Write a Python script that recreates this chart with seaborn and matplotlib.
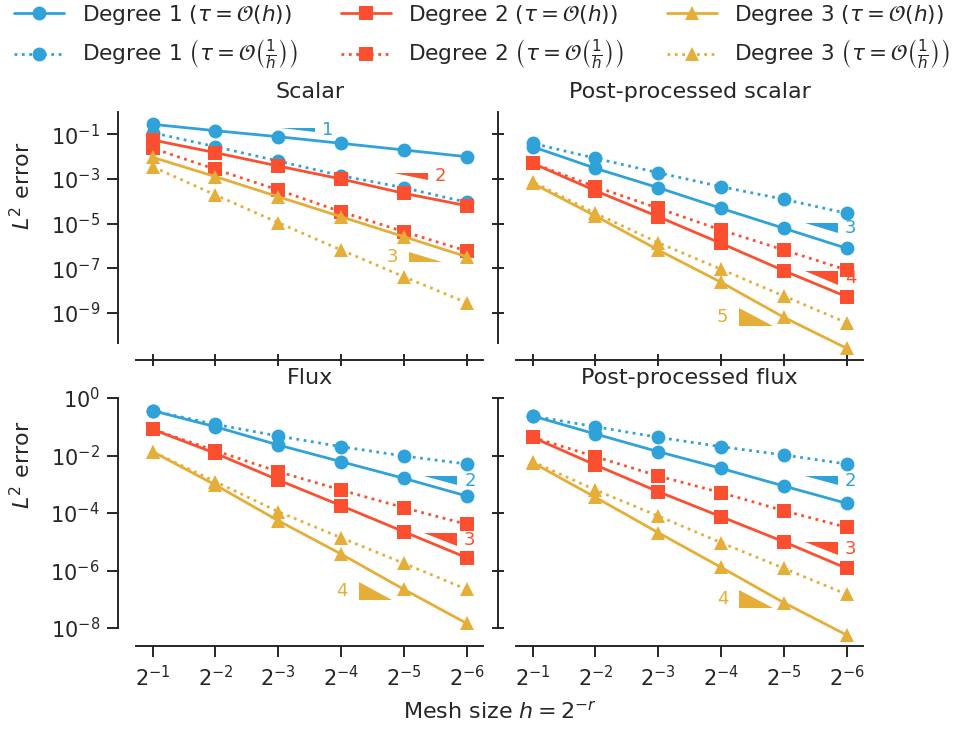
import numpy as np
import pandas as pd
import matplotlib
matplotlib.use("Agg")
import matplotlib.pyplot as plt
from matplotlib.lines import Line2D
from matplotlib.patches import Polygon
from matplotlib.ticker import FixedLocator, LogFormatterSciNotation, NullLocator
import seaborn as sns

# ---------------------------------------------------------------- data
refinement = [1, 2, 3, 4, 5, 6]           # h = 2^-r
mesh_size = [2.0 ** -r for r in refinement]

panel_titles = ["Scalar", "Post-processed scalar", "Flux", "Post-processed flux"]

# L2 errors, tau = O(h) ("h") and tau = O(1/h) ("inv")
scalar_deg1_h = [2.81e-1, 1.45e-1, 7.80e-2, 3.94e-2, 1.98e-2, 9.91e-3]
scalar_deg1_inv = [1.18e-1, 2.78e-2, 6.35e-3, 1.39e-3, 4.03e-4, 8.93e-5]
scalar_deg2_h = [5.55e-2, 1.50e-2, 3.78e-3, 9.91e-4, 2.26e-4, 6.28e-5]
scalar_deg2_inv = [2.36e-2, 2.69e-3, 3.18e-4, 3.38e-5, 4.29e-6, 5.85e-7]
scalar_deg3_h = [9.31e-3, 1.26e-3, 1.59e-4, 2.02e-5, 2.56e-6, 3.24e-7]
scalar_deg3_inv = [3.52e-3, 1.90e-4, 1.09e-5, 6.49e-7, 4.11e-8, 2.81e-9]

pp_scalar_deg1_h = [2.78e-2, 2.99e-3, 4.03e-4, 4.81e-5, 6.10e-6, 7.73e-7]
pp_scalar_deg1_inv = [3.94e-2, 8.39e-3, 1.90e-3, 4.47e-4, 1.22e-4, 2.86e-5]
pp_scalar_deg2_h = [5.01e-3, 2.96e-4, 2.02e-5, 1.29e-6, 7.64e-8, 5.21e-9]
pp_scalar_deg2_inv = [5.01e-3, 4.47e-4, 4.81e-5, 5.12e-6, 6.49e-7, 8.22e-8]
pp_scalar_deg3_h = [6.35e-4, 2.17e-5, 6.49e-7, 2.31e-8, 6.22e-10, 2.54e-11]
pp_scalar_deg3_inv = [7.48e-4, 2.86e-5, 1.38e-6, 8.83e-8, 5.61e-9, 3.56e-10]

flux_deg1_h = [3.62e-1, 1.00e-1, 2.32e-2, 6.11e-3, 1.61e-3, 3.90e-4]
flux_deg1_inv = [3.62e-1, 1.21e-1, 4.76e-2, 2.03e-2, 9.62e-3, 5.06e-3]
flux_deg2_h = [8.13e-2, 1.19e-2, 1.41e-3, 1.80e-4, 2.24e-5, 2.79e-6]
flux_deg2_inv = [8.13e-2, 1.47e-2, 2.74e-3, 6.31e-4, 1.53e-4, 4.04e-5]
flux_deg3_h = [1.36e-2, 9.42e-4, 5.41e-5, 3.75e-6, 2.21e-7, 1.45e-8]
flux_deg3_inv = [1.36e-2, 1.23e-3, 1.11e-4, 1.38e-5, 1.78e-6, 2.21e-7]

pp_flux_deg1_h = [2.37e-1, 5.60e-2, 1.36e-2, 3.58e-3, 8.69e-4, 2.17e-4]
pp_flux_deg1_inv = [2.37e-1, 1.00e-1, 4.29e-2, 2.03e-2, 1.04e-2, 5.06e-3]
pp_flux_deg2_h = [4.29e-2, 4.68e-3, 5.52e-4, 7.45e-5, 1.00e-5, 1.19e-6]
pp_flux_deg2_inv = [4.29e-2, 9.10e-3, 1.94e-3, 5.09e-4, 1.20e-4, 3.17e-5]
pp_flux_deg3_h = [5.64e-3, 3.51e-4, 2.07e-5, 1.29e-6, 7.59e-8, 5.71e-9]
pp_flux_deg3_inv = [6.11e-3, 6.31e-4, 7.87e-5, 9.29e-6, 1.19e-6, 1.48e-7]

# convergence-rate triangles, one per degree: (rate, left exponent of h, top error, label side)
scalar_slopes = [(1, 3.05, 10 ** -0.731, "right"), (2, 4.85, 10 ** -2.722, "right"),
                 (3, 5.08, 10 ** -6.265, "left")]
pp_scalar_slopes = [(3, 5.33, 10 ** -4.964, "right"), (4, 5.33, 10 ** -7.117, "right"),
                    (5, 4.29, 10 ** -8.803, "left")]
flux_slopes = [(2, 5.32, 10 ** -2.713, "right"), (3, 5.32, 10 ** -4.685, "right"),
               (4, 4.28, 10 ** -6.390, "left")]
pp_flux_slopes = [(2, 5.33, 10 ** -2.713, "right"), (3, 5.33, 10 ** -4.998, "right"),
                  (4, 4.29, 10 ** -6.678, "left")]
TRIANGLE_WIDTH = 0.53   # in powers of two along h

degree_labels = ["Degree 1", "Degree 2", "Degree 3"]
tau_labels = [r"($\tau = \mathcal{O}(h)$)",
              r"$\left(\tau = \mathcal{O}\left(\frac{1}{h}\right)\right)$"]

# ---------------------------------------------------------------- style
sns.set_theme(style="ticks")
plt.rcParams.update({
    "text.color": "#262626",
    "axes.edgecolor": "#262626",
    "axes.linewidth": 1.4,
    "xtick.color": "#262626",
    "ytick.color": "#262626",
    "xtick.major.size": 8,
    "ytick.major.size": 8,
    "xtick.major.width": 1.4,
    "ytick.major.width": 1.4,
    "xtick.labelsize": 15,
    "ytick.labelsize": 15,
    "axes.titlesize": 16,
    "mathtext.fontset": "dejavusans",
})
plt.rcParams["font.family"] = ["DejaVu Sans"]

colors = ["#30a2da", "#fc4f30", "#e5ae38"]
markers = ["o", "s", "^"]
styles = ["-", ":"]
LW = 2.0
MS = 10

panels = [
    [[scalar_deg1_h, scalar_deg1_inv], [scalar_deg2_h, scalar_deg2_inv],
     [scalar_deg3_h, scalar_deg3_inv]],
    [[pp_scalar_deg1_h, pp_scalar_deg1_inv], [pp_scalar_deg2_h, pp_scalar_deg2_inv],
     [pp_scalar_deg3_h, pp_scalar_deg3_inv]],
    [[flux_deg1_h, flux_deg1_inv], [flux_deg2_h, flux_deg2_inv],
     [flux_deg3_h, flux_deg3_inv]],
    [[pp_flux_deg1_h, pp_flux_deg1_inv], [pp_flux_deg2_h, pp_flux_deg2_inv],
     [pp_flux_deg3_h, pp_flux_deg3_inv]],
]
slopes = [scalar_slopes, pp_scalar_slopes, flux_slopes, pp_flux_slopes]

W, H = 959, 731
fig = plt.figure(figsize=(W / 100, H / 100), dpi=100)


def px_rect(x0, x1, top, bottom):
    return [x0 / W, 1 - bottom / H, (x1 - x0) / W, (bottom - top) / H]


rects = [px_rect(136, 483.3, 112, 342.7), px_rect(516, 863.3, 112, 342.7),
         px_rect(136, 483.3, 398, 628), px_rect(516, 863.3, 398, 628)]
ylims = [(10 ** -10.345, 1.0), (10 ** -10.345, 1.0), (1e-8, 1.0), (1e-8, 1.0)]
yticks = [[1e-1, 1e-3, 1e-5, 1e-7, 1e-9], [1e-1, 1e-3, 1e-5, 1e-7, 1e-9],
          [1e0, 1e-2, 1e-4, 1e-6, 1e-8], [1e0, 1e-2, 1e-4, 1e-6, 1e-8]]

for i, (rect, series, slope_set) in enumerate(zip(rects, panels, slopes)):
    ax = fig.add_axes(rect)
    ax.set_xscale("log", base=2)
    ax.set_yscale("log")

    for d, pair in enumerate(series):
        for t, vals in enumerate(pair):
            frame = pd.DataFrame({"h": mesh_size, "err": vals})
            sns.lineplot(data=frame, x="h", y="err", ax=ax, errorbar=None,
                         color=colors[d], marker=markers[d], linestyle=styles[t],
                         linewidth=LW, markersize=MS, markeredgewidth=0,
                         clip_on=False, zorder=3 + d)

    # slope triangles
    for d, (rate, e0, ytop, side) in enumerate(slope_set):
        x_left = 2.0 ** -e0
        x_right = 2.0 ** -(e0 + TRIANGLE_WIDTH)
        y_bot = ytop * (x_right / x_left) ** rate
        y_mid = np.sqrt(ytop * y_bot)
        if side == "right":
            verts = [(x_left, ytop), (x_right, ytop), (x_right, y_bot)]
            ax.annotate(str(rate), (x_right, y_mid), xytext=(5, 0),
                        textcoords="offset points", ha="left", va="center",
                        color=colors[d], fontsize=13)
        else:
            verts = [(x_left, ytop), (x_left, y_bot), (x_right, y_bot)]
            ax.annotate(str(rate), (x_left, y_mid), xytext=(-8, 0),
                        textcoords="offset points", ha="right", va="center",
                        color=colors[d], fontsize=13)
        ax.add_patch(Polygon(verts, closed=True, color=colors[d], lw=0, zorder=6))

    ax.set_xlim(2.0 ** -0.735, 2.0 ** -6.265)
    ax.set_ylim(*ylims[i])
    ax.xaxis.set_major_locator(FixedLocator(mesh_size))
    ax.xaxis.set_major_formatter(LogFormatterSciNotation(base=2))
    ax.xaxis.set_minor_locator(NullLocator())
    ax.yaxis.set_major_locator(FixedLocator(yticks[i]))
    ax.yaxis.set_major_formatter(LogFormatterSciNotation(base=10))
    ax.yaxis.set_minor_locator(NullLocator())
    ax.set_xlabel("")
    ax.set_ylabel("")
    ax.set_title(panel_titles[i], pad=10)

    sns.despine(ax=ax)
    ax.spines["left"].set_position(("outward", 13))
    ax.spines["bottom"].set_position(("outward", 12.6))

    if i < 2:
        ax.tick_params(axis="x", direction="inout", labelbottom=False)
    else:
        ax.tick_params(axis="x", direction="out", pad=6)
    if i % 2 == 1:
        ax.tick_params(axis="y", direction="inout", labelleft=False)
    else:
        ax.tick_params(axis="y", direction="out", pad=5)

# axis labels
fig.text(22 / W, 1 - 186 / H, r"$L^2$ error", rotation=90, ha="center", va="center",
         fontsize=16)
fig.text(22 / W, 1 - 465 / H, r"$L^2$ error", rotation=90, ha="center", va="center",
         fontsize=16)
fig.text(499.5 / W, 1 - 712 / H, r"Mesh size $h = 2^{-r}$", ha="center", va="center",
         fontsize=16)

# legend: rows are the two tau scalings, columns the polynomial degree
# (the legend fills column by column)
handles, labels = [], []
for d in range(3):
    for t in range(2):
        handles.append(Line2D([], [], color=colors[d], marker=markers[d],
                              linestyle=styles[t], linewidth=LW, markersize=MS,
                              markeredgewidth=0))
        labels.append(f"{degree_labels[d]} {tau_labels[t]}")
fig.legend(handles, labels, ncol=3, loc="upper left", bbox_to_anchor=(0.006, 1.008),
           frameon=False, fontsize=15.6, handlelength=2.3, handletextpad=0.8,
           columnspacing=2.0, labelspacing=0.5, borderaxespad=0.0)

fig.savefig("out.png", dpi=100)
